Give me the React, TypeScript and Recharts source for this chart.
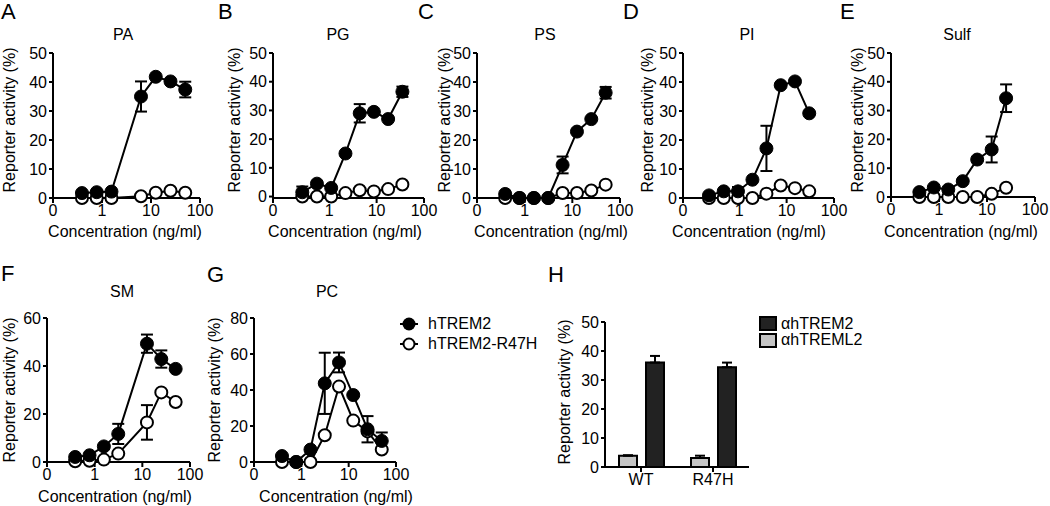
import { ComposedChart, Line, Bar, XAxis, YAxis, ErrorBar } from 'recharts';

const FONT = '"Liberation Sans", Arial, Helvetica, sans-serif';

// --- data (ng/ml concentration, reporter activity %) ---
const concA = [0.39, 0.78, 1.56, 6.25, 12.5, 25, 50];
const wtA = [1.7, 2.0, 2.2, 35, 41.8, 40.2, 37.4];
const wtErrA = [0, 0, 0, 5.2, 0, 0, 2.7];
const mutA = [0, 0, 0, 0.6, 1.8, 2.5, 1.8];
const mutErrA = [0, 0, 0, 0, 0, 0, 0];

const concB = [0.27, 0.55, 1.1, 2.2, 4.4, 8.75, 17.5, 35];
const wtB = [1.5, 4.5, 3.0, 15, 29, 29.5, 27, 36.5];
const wtErrB = [2, 0, 0, 0, 3.2, 0, 0, 1.8];
const mutB = [0, 0, 0, 1.2, 2.2, 1.8, 2.6, 4.2];
const mutErrB = [0, 0, 0, 0, 0, 0, 0, 0];

const concC = [0.39, 0.78, 1.56, 3.125, 6.25, 12.5, 25, 50];
const wtC = [1.4, 0, 0, 0, 11.4, 22.9, 27.2, 36.3];
const wtErrC = [0, 0, 0, 0, 2.9, 0, 0, 2];
const mutC = [0, 0, 0, 0, 1.7, 1.7, 2.6, 4.6];
const mutErrC = [0, 0, 0, 0, 0, 0, 0, 0];

const concD = [0.23, 0.47, 0.94, 1.9, 3.75, 7.5, 15, 30];
const wtD = [0.9, 2.3, 2.3, 6.3, 17.1, 38.9, 40.2, 29.2];
const wtErrD = [0, 0, 1.5, 0, 7.8, 0, 0, 0];
const mutD = [0, 0, 0, 0, 1.5, 4.3, 3.4, 2.3];
const mutErrD = [0, 0, 0, 0, 0, 0, 0, 0];

const concE = [0.39, 0.78, 1.56, 3.125, 6.25, 12.5, 25];
const wtE = [1.7, 3.3, 2.6, 5.5, 13, 16.5, 34.3];
const wtErrE = [0, 0, 0, 0, 0, 4.5, 4.8];
const mutE = [0, 0, 0, 0, 0, 1.1, 3.2];
const mutErrE = [0, 0, 0, 0, 0, 0, 0];

const concF = [0.39, 0.78, 1.56, 3.125, 12.5, 25, 50];
const wtF = [2.1, 2.8, 6.5, 11.7, 49.3, 42.9, 38.8];
const wtErrF = [0, 0, 0, 4.2, 3.8, 3.6, 0];
const mutF = [0.3, 0.5, 1, 3.5, 16.5, 29, 25];
const mutErrF = [0, 0, 0, 0, 7.2, 0, 0];

const concG = [0.39, 0.78, 1.56, 3.125, 6.25, 12.5, 25, 50];
const wtG = [3.3, 0, 6.9, 43.7, 55.3, 37.2, 18.2, 11.7];
const wtErrG = [0, 0, 0, 17, 5.5, 0, 7.3, 4.7];
const mutG = [0, 0, 0, 14.9, 41.9, 23, 17, 6.9];
const mutErrG = [0, 0, 0, 0, 0, 0, 0, 0];

const hCats = ['WT', 'R47H'];
const hTreml2 = [3.9, 3.1];
const hTreml2Err = [0.15, 0.8];
const hTrem2 = [36, 34.4];
const hTrem2Err = [2.3, 1.6];

const ticks50 = [0, 10, 20, 30, 40, 50];
const ticks60 = [0, 20, 40, 60];
const ticks80 = [0, 20, 40, 60, 80];

type Row = { conc: number; wt: number; wtErr: number; mut: number; mutErr: number };

const rowsOf = (conc: number[], wt: number[], wtErr: number[], mut: number[], mutErr: number[]): Row[] =>
  conc.map((c, i) => ({ conc: c, wt: wt[i], wtErr: wtErr[i], mut: mut[i], mutErr: mutErr[i] }));

const hRows = hCats.map((name, i) => ({
  name,
  treml2: hTreml2[i],
  treml2Err: [0, hTreml2Err[i]],
  trem2: hTrem2[i],
  trem2Err: [0, hTrem2Err[i]],
}));

const axisStyle = { stroke: '#000', strokeWidth: 2 };
const tickStyle = { fill: '#000', fontSize: 16, fontFamily: FONT };

const YW = 45;
const XH = 40;
const MT = 10;
const MR = 15;

function XYPanel({ plot, lo, ymax, yTicks, rows }: {
  plot: [number, number, number, number];
  lo: number;
  ymax: number;
  yTicks: number[];
  rows: Row[];
}) {
  const [l, t, r, b] = plot;
  return (
    <div style={{ position: 'absolute', left: l - YW, top: t - MT }}>
      <ComposedChart
        width={r - l + YW + MR}
        height={b - t + MT + XH}
        data={rows}
        margin={{ top: MT, right: MR, bottom: 0, left: 0 }}
      >
        <XAxis
          dataKey="conc"
          type="number"
          scale="log"
          domain={[lo, 100]}
          ticks={[lo, 1, 10, 100]}
          interval={0}
          tickFormatter={(v: number) => (v < 1 ? '0' : String(v))}
          height={XH}
          axisLine={axisStyle}
          tickLine={axisStyle}
          tickSize={5}
          tickMargin={2}
          tick={tickStyle}
        />
        <YAxis
          type="number"
          domain={[0, ymax]}
          ticks={yTicks}
          interval={0}
          width={YW}
          axisLine={axisStyle}
          tickLine={axisStyle}
          tickSize={4}
          tickMargin={2}
          tick={tickStyle}
        />
        <Line
          dataKey="mut"
          type="linear"
          stroke="#000"
          strokeWidth={2}
          dot={{ r: 6, fill: '#fff', stroke: '#000', strokeWidth: 2 }}
          activeDot={false}
          isAnimationActive={false}
        >
          <ErrorBar dataKey="mutErr" direction="y" width={6} stroke="#000" strokeWidth={2} isAnimationActive={false} />
        </Line>
        <Line
          dataKey="wt"
          type="linear"
          stroke="#000"
          strokeWidth={2}
          dot={{ r: 6.5, fill: '#000', stroke: '#000', strokeWidth: 1 }}
          activeDot={false}
          isAnimationActive={false}
        >
          <ErrorBar dataKey="wtErr" direction="y" width={6} stroke="#000" strokeWidth={2} isAnimationActive={false} />
        </Line>
      </ComposedChart>
    </div>
  );
}

function Txt({ x, y, children, size = 16, start = false, rotate = false }: {
  x: number; y: number; children: React.ReactNode; size?: number; start?: boolean; rotate?: boolean;
}) {
  return (
    <div
      style={{
        position: 'absolute',
        left: x,
        top: y,
        transform: `translate(${start ? '0' : '-50%'},-50%)${rotate ? ' rotate(-90deg)' : ''}`,
        fontSize: size,
        lineHeight: 1,
        fontFamily: FONT,
        whiteSpace: 'nowrap',
        color: '#000',
      }}
    >
      {children}
    </div>
  );
}

const YT = 'Reporter activity (%)';
const XT = 'Concentration (ng/ml)';

export default function App() {
  return (
    <div style={{ position: 'absolute', left: 0, top: 0, width: 1050, height: 506, overflow: 'hidden', background: '#fff' }}>
      {/* top row */}
      <XYPanel plot={[53, 53, 200, 198]} lo={0.1} ymax={50} yTicks={ticks50} rows={rowsOf(concA, wtA, wtErrA, mutA, mutErrA)} />
      <XYPanel plot={[273, 53, 424, 198]} lo={0.065} ymax={50} yTicks={ticks50} rows={rowsOf(concB, wtB, wtErrB, mutB, mutErrB)} />
      <XYPanel plot={[477, 53, 620, 198]} lo={0.1} ymax={50} yTicks={ticks50} rows={rowsOf(concC, wtC, wtErrC, mutC, mutErrC)} />
      <XYPanel plot={[683, 53, 834, 198]} lo={0.065} ymax={50} yTicks={ticks50} rows={rowsOf(concD, wtD, wtErrD, mutD, mutErrD)} />
      <XYPanel plot={[891, 53, 1035, 197]} lo={0.1} ymax={50} yTicks={ticks50} rows={rowsOf(concE, wtE, wtErrE, mutE, mutErrE)} />

      {/* bottom row */}
      <XYPanel plot={[47, 318, 190, 462]} lo={0.1} ymax={60} yTicks={ticks60} rows={rowsOf(concF, wtF, wtErrF, mutF, mutErrF)} />
      <XYPanel plot={[254, 318, 396, 462]} lo={0.1} ymax={80} yTicks={ticks80} rows={rowsOf(concG, wtG, wtErrG, mutG, mutErrG)} />

      <div style={{ position: 'absolute', left: 605 - YW, top: 322 - MT }}>
        <ComposedChart
          width={749 - 605 + YW + MR}
          height={467 - 322 + MT + XH}
          data={hRows}
          barGap={9}
          margin={{ top: MT, right: MR, bottom: 0, left: 0 }}
        >
          <XAxis
            dataKey="name"
            type="category"
            height={XH}
            axisLine={axisStyle}
            tickLine={axisStyle}
            tickSize={5}
            tickMargin={2}
            tick={tickStyle}
          />
          <YAxis
            type="number"
            domain={[0, 50]}
            ticks={ticks50}
            interval={0}
            width={YW}
            axisLine={axisStyle}
            tickLine={axisStyle}
            tickSize={4}
            tickMargin={2}
            tick={tickStyle}
          />
          <Bar dataKey="treml2" barSize={18} fill="#c4c4c4" stroke="#000" strokeWidth={2} isAnimationActive={false}>
            <ErrorBar dataKey="treml2Err" direction="y" width={5} stroke="#000" strokeWidth={2} isAnimationActive={false} />
          </Bar>
          <Bar dataKey="trem2" barSize={18} fill="#222" stroke="#000" strokeWidth={2} isAnimationActive={false}>
            <ErrorBar dataKey="trem2Err" direction="y" width={5} stroke="#000" strokeWidth={2} isAnimationActive={false} />
          </Bar>
        </ComposedChart>
      </div>

      {/* panel letters */}
      <Txt x={1} y={12} size={22} start>A</Txt>
      <Txt x={218} y={12} size={22} start>B</Txt>
      <Txt x={418} y={12} size={22} start>C</Txt>
      <Txt x={623} y={12} size={22} start>D</Txt>
      <Txt x={840} y={12} size={22} start>E</Txt>
      <Txt x={1} y={274} size={22} start>F</Txt>
      <Txt x={207} y={275} size={22} start>G</Txt>
      <Txt x={548} y={275} size={22} start>H</Txt>

      {/* titles */}
      <Txt x={123} y={35}>PA</Txt>
      <Txt x={338} y={35}>PG</Txt>
      <Txt x={545} y={35}>PS</Txt>
      <Txt x={747} y={35}>PI</Txt>
      <Txt x={957} y={35}>Sulf</Txt>
      <Txt x={122} y={292}>SM</Txt>
      <Txt x={327} y={292}>PC</Txt>

      {/* y axis titles */}
      <Txt x={10} y={120} rotate>{YT}</Txt>
      <Txt x={235} y={120} rotate>{YT}</Txt>
      <Txt x={445} y={120} rotate>{YT}</Txt>
      <Txt x={648} y={120} rotate>{YT}</Txt>
      <Txt x={858} y={120} rotate>{YT}</Txt>
      <Txt x={10} y={390} rotate>{YT}</Txt>
      <Txt x={215} y={390} rotate>{YT}</Txt>
      <Txt x={565} y={392} rotate>{YT}</Txt>

      {/* x axis titles */}
      <Txt x={125} y={232}>{XT}</Txt>
      <Txt x={345} y={232}>{XT}</Txt>
      <Txt x={551} y={232}>{XT}</Txt>
      <Txt x={749} y={232}>{XT}</Txt>
      <Txt x={961} y={232}>{XT}</Txt>
      <Txt x={115} y={497}>{XT}</Txt>
      <Txt x={336} y={497}>{XT}</Txt>

      {/* legend for F/G */}
      <svg style={{ position: 'absolute', left: 398, top: 314 }} width={22} height={40}>
        <line x1={2} y1={10} x2={20} y2={10} stroke="#000" strokeWidth={2} />
        <circle cx={11} cy={10} r={6.5} fill="#000" />
        <line x1={2} y1={30} x2={20} y2={30} stroke="#000" strokeWidth={2} />
        <circle cx={11} cy={30} r={5.5} fill="#fff" stroke="#000" strokeWidth={2} />
      </svg>
      <Txt x={428} y={324} start>hTREM2</Txt>
      <Txt x={428} y={344} start>hTREM2-R47H</Txt>

      {/* legend for H */}
      <svg style={{ position: 'absolute', left: 759, top: 316 }} width={20} height={33}>
        <rect x={1} y={1} width={16} height={13} fill="#222" stroke="#000" strokeWidth={2} />
        <rect x={1} y={18} width={16} height={13} fill="#c4c4c4" stroke="#000" strokeWidth={2} />
      </svg>
      <Txt x={781} y={324} start>αhTREM2</Txt>
      <Txt x={781} y={340} start>αhTREML2</Txt>
    </div>
  );
}
